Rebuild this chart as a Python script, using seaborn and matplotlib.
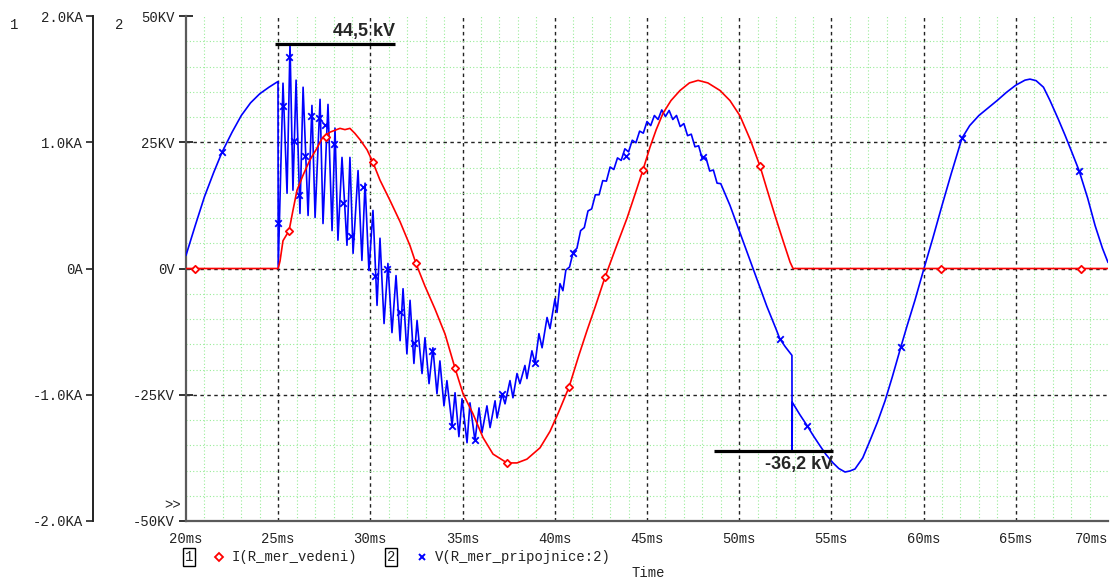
import numpy as np
import pandas as pd
import matplotlib
matplotlib.use("Agg")
import matplotlib.pyplot as plt
from matplotlib.lines import Line2D
import seaborn as sns

# ---- voltage at the busbar, V(R_mer_pripojnice:2) [ms, kV] ----
t_v = [20.00, 20.50, 21.00, 21.50, 21.95, 22.50, 23.00, 23.50, 24.00, 24.50,
       24.93, 24.99, 25.00,
       25.26, 25.48, 25.64, 25.80, 25.97, 26.18, 26.35, 26.62, 26.83, 27.00,
       27.27, 27.43, 27.70, 27.92, 28.08, 28.24, 28.46, 28.73, 28.89, 29.06,
       29.33, 29.54, 29.71, 29.92, 30.14, 30.36, 30.52, 30.74, 30.95, 31.17,
       31.39, 31.61, 31.77, 31.98, 32.15, 32.36, 32.53, 32.80, 32.96, 33.18,
       33.39, 33.61, 33.77, 33.99, 34.15, 34.43, 34.59, 34.80, 34.97, 35.24,
       35.40, 35.67, 35.89, 36.05, 36.32, 36.49, 36.76, 36.87, 37.14, 37.30,
       37.57, 37.73, 37.95, 38.11, 38.38, 38.49, 38.76, 38.93, 39.14, 39.31,
       39.58, 39.74, 40.01, 40.12, 40.28, 40.44,
       40.6, 40.8, 41.0, 41.2, 41.4, 41.6, 41.8, 42.0, 42.2, 42.4, 42.6, 42.8,
       43.0, 43.2, 43.4, 43.6, 43.8, 44.0, 44.2, 44.4, 44.6, 44.8, 45.0, 45.2,
       45.4, 45.6, 45.8, 46.0, 46.2, 46.4, 46.6, 46.8, 47.0, 47.2, 47.4, 47.6,
       47.8, 48.0, 48.2, 48.4, 48.6, 48.8, 49.0,
       49.5, 50.0, 50.5, 51.0, 51.5, 52.0, 52.2, 52.5, 52.86, 52.87, 52.88,
       53.30, 53.68, 54.00, 54.38, 54.70, 55.09, 55.40, 55.74, 56.00, 56.28,
       56.70, 57.09, 57.50, 57.91, 58.30, 58.77, 59.10, 59.53, 60.02,
       60.50, 61.00, 61.50, 62.08, 62.50, 63.00, 63.50, 64.00, 64.50, 65.00,
       65.50, 65.77, 66.10, 66.50, 66.85, 67.30, 67.67, 68.00, 68.43, 68.90,
       69.30, 69.70, 70.00]
v_v = [2.6, 8.5, 14.2, 19.0, 23.0, 27.0, 30.3, 32.8, 34.6, 35.9,
       36.9, 37.0, 0.0,
       36.7, 14.9, 44.5, 15.5, 37.3, 10.9, 35.9, 10.5, 32.3, 10.1,
       33.5, 8.9, 32.5, 7.5, 27.8, 5.6, 22.0, 4.6, 22.0, 3.0,
       19.4, 1.6, 16.9, -0.4, 11.5, -7.3, 6.0, -10.9, 1.0, -12.7,
       -1.4, -14.3, -4.0, -16.9, -6.3, -18.8, -10.3, -20.8, -13.7, -22.8,
       -15.7, -24.8, -18.3, -27.2, -22.2, -31.1, -24.6, -33.3, -25.8, -34.5,
       -26.6, -34.1, -27.6, -32.5, -27.2, -31.5, -26.2, -29.6, -24.8, -26.8,
       -22.2, -25.6, -20.8, -22.8, -19.2, -21.8, -16.3, -18.8, -12.9, -15.7,
       -9.7, -11.9, -6.0, -8.7, -3.0, -4.4,
       -0.3, 0.3, 3.3, 4.0, 7.5, 8.1, 11.4, 11.8, 14.6, 14.6, 17.4, 17.3,
       20.1, 19.6, 21.9, 21.4, 23.7, 23.1, 25.4, 24.9, 27.2, 26.8, 29.1, 28.3,
       30.3, 29.5, 31.4, 30.1, 31.3, 29.5, 30.3, 28.1, 28.7, 26.3, 26.6, 24.1,
       24.3, 21.7, 21.9, 19.3, 19.5, 16.9, 16.8,
       12.5, 7.5, 2.5, -2.5, -7.5, -12.0, -13.9, -15.5, -17.2, -36.2, -26.5,
       -29.0, -31.1, -33.0, -35.1, -36.8, -38.5, -39.6, -40.3, -40.1, -39.7,
       -37.5, -34.1, -30.4, -26.2, -21.5, -15.5, -11.4, -6.3, 0.0,
       6.0, 12.5, 18.8, 25.8, 28.3, 30.3, 31.8, 33.3, 34.9, 36.3,
       37.3, 37.5, 37.2, 35.9, 33.3, 29.6, 26.4, 23.4, 19.4, 13.9,
       8.5, 4.0, 1.2]

# ---- line current, I(R_mer_vedeni) [ms, kA] ----
t_i = [20.00, 25.00, 25.10, 25.26, 25.59, 25.80, 26.02, 26.35, 26.72, 27.05,
       27.38, 27.81, 28.35, 28.62, 28.89, 29.16, 29.44, 29.82, 30.14, 30.52,
       31.06, 31.61, 32.15, 32.47, 32.96, 33.50, 34.05, 34.59, 35.02, 35.56,
       36.11, 36.65, 37.41, 37.95, 38.49, 39.20, 39.74, 40.20, 40.77, 41.30,
       41.75, 42.20, 42.72, 43.30, 43.92, 44.40, 44.78, 45.16, 45.50, 45.87,
       46.30, 46.79, 47.30, 47.77, 48.30, 48.96, 49.50, 50.04, 50.60, 51.13,
       51.50, 51.94, 52.40, 52.76, 52.92, 70.00]
i_i = [0.0, 0.0, 0.06, 0.22, 0.30, 0.46, 0.62, 0.74, 0.86, 0.94,
       1.03, 1.08, 1.11, 1.10, 1.11, 1.07, 1.02, 0.94, 0.84, 0.70,
       0.54, 0.37, 0.18, 0.04, -0.14, -0.32, -0.52, -0.79, -0.99, -1.15,
       -1.34, -1.47, -1.54, -1.54, -1.51, -1.42, -1.29, -1.14, -0.94, -0.69,
       -0.49, -0.30, -0.07, 0.16, 0.40, 0.61, 0.78, 0.96, 1.10, 1.23,
       1.33, 1.41, 1.47, 1.49, 1.47, 1.41, 1.33, 1.21, 1.02, 0.81,
       0.63, 0.42, 0.21, 0.05, 0.0, 0.0]

# trace symbols
mk_t_v = [21.95, 24.99, 25.26, 25.59, 25.85, 26.13, 26.45, 26.78, 27.21, 27.54,
          28.03, 28.51, 28.95, 29.60, 30.25, 30.90, 31.61, 32.37, 33.34, 34.43,
          35.67, 37.14, 38.93, 40.98, 43.86, 48.04, 52.21, 53.68, 58.77, 62.08,
          68.43]
mk_v_v = [23.0, 9.1, 32.1, 41.9, 25.2, 14.5, 22.2, 30.2, 29.8, 28.4,
          24.6, 12.9, 6.5, 16.1, -1.4, 0.0, -8.7, -14.7, -16.3, -31.1,
          -33.9, -24.8, -18.8, 3.0, 22.2, 22.0, -13.9, -31.1, -15.5, 25.8,
          19.4]
mk_t_i = [20.49, 25.59, 27.60, 30.14, 32.47, 34.59, 37.41, 40.77, 42.72, 44.78,
          51.13, 60.94, 68.54]
mk_i_i = [0.0, 0.30, 1.04, 0.84, 0.04, -0.79, -1.54, -0.94, -0.07, 0.78,
          0.81, 0.0, 0.0]

x_ticks = [20, 25, 30, 35, 40, 45, 50, 55, 60, 65, 70]
x_labels = ["20ms", "25ms", "30ms", "35ms", "40ms", "45ms", "50ms", "55ms",
            "60ms", "65ms", "70ms"]
v_ticks = [-50, -25, 0, 25, 50]
v_labels = ["-50KV", "-25KV", "0V", "25KV", "50KV"]
i_ticks = [-2, -1, 0, 1, 2]
i_labels = ["-2.0KA", "-1.0KA", "0A", "1.0KA", "2.0KA"]

peak_kv = 44.5
dip_kv = -36.2

sns.set_theme(style="white")
plt.rcParams["font.family"] = ["Liberation Mono", "DejaVu Sans Mono"]

W, H = 1111, 580
fig = plt.figure(figsize=(W / 100, H / 100), dpi=100)
fig.patch.set_facecolor("white")
ax = fig.add_axes([186 / W, 59 / H, 922 / W, 505 / H])
ax.set_facecolor("white")

BLUE = "#0000ff"
RED = "#ff0000"
GREY = "#5a5a5a"

# voltage trace (axis 2)
sns.lineplot(x=t_v, y=v_v, ax=ax, color=BLUE, linewidth=1.2,
             estimator=None, sort=False, zorder=3)
sns.scatterplot(x=mk_t_v, y=mk_v_v, ax=ax, marker="x", color=BLUE, s=22,
                linewidth=1.3, zorder=4)

# annotations of the extreme values
ax.plot([24.83, 31.33], [peak_kv, peak_kv], color="black", lw=2.3,
        solid_capstyle="butt", zorder=5)
ax.text(31.33, peak_kv + 0.7, f"{peak_kv:.1f}".replace(".", ",") + " kV",
        ha="right", va="bottom", fontsize=13, fontweight="bold",
        family="Liberation Sans", zorder=6)
ax.plot([48.63, 55.09], [dip_kv, dip_kv], color="black", lw=2.3,
        solid_capstyle="butt", zorder=5)
ax.text(55.09, dip_kv - 0.9, f"{dip_kv:.1f}".replace(".", ",") + " kV",
        ha="right", va="top", fontsize=13, fontweight="bold",
        family="Liberation Sans", zorder=6)

ax.set_xlim(20, 70)
ax.set_ylim(-50, 50)
ax.set_xticks(x_ticks)
ax.set_xticklabels(x_labels)
ax.set_yticks(v_ticks)
ax.set_yticklabels(v_labels)
ax.set_xticks(np.arange(20, 71, 1), minor=True)
ax.set_yticks(np.arange(-50, 51, 5), minor=True)
ax.set_xlabel("")
ax.set_ylabel("")

ax.grid(which="minor", color="#98ec98", linestyle=(0, (1, 2)), linewidth=0.8)
ax.grid(which="major", color="#222222", linestyle=(0, (2.5, 2.5)), linewidth=1.0)
for gl in (ax.xaxis.get_gridlines()[0], ax.xaxis.get_gridlines()[-1],
           ax.yaxis.get_gridlines()[0], ax.yaxis.get_gridlines()[-1]):
    gl.set_visible(False)
ax.set_axisbelow(True)

for side in ("top", "right"):
    ax.spines[side].set_visible(False)
for side in ("left", "bottom"):
    ax.spines[side].set_color(GREY)
    ax.spines[side].set_linewidth(1.6)

ax.tick_params(axis="both", which="minor", length=0)
ax.tick_params(axis="x", which="major", direction="inout", length=8, width=1.4,
               color="#333333", pad=4, labelsize=10, labelcolor="#222222")
ax.tick_params(axis="y", which="major", direction="inout", length=10, width=1.4,
               color="#333333", pad=3, labelsize=10, labelcolor="#222222")
# the last time label sits flush with the right edge of the plot
ax.get_xticklabels()[-1].set_horizontalalignment("right")

# current trace (axis 1), its scale drawn further left
ax_i = ax.twinx()
sns.lineplot(x=t_i, y=i_i, ax=ax_i, color=RED, linewidth=1.2,
             estimator=None, sort=False, zorder=3)
sns.scatterplot(x=mk_t_i, y=mk_i_i, ax=ax_i, marker="D", color="white",
                edgecolor=RED, s=14, linewidth=1.3, zorder=4)
ax_i.set_ylim(-2, 2)
ax_i.set_yticks(i_ticks)
ax_i.set_yticklabels(i_labels)
ax_i.set_ylabel("")
ax_i.grid(False)
ax_i.yaxis.set_ticks_position("left")
ax_i.spines["left"].set_position(("outward", 93 * 0.72))
ax_i.spines["left"].set_visible(True)
ax_i.spines["left"].set_color("#222222")
ax_i.spines["left"].set_linewidth(1.4)
for side in ("right", "top", "bottom"):
    ax_i.spines[side].set_visible(False)
ax_i.tick_params(axis="y", direction="out", length=5, width=1.2,
                 color="#222222", pad=2, labelsize=10, labelcolor="#222222")

# axis numbers, overflow mark, legend and x caption
def fx(px):
    return px / W

def fy(py):
    return 1 - py / H

txt = dict(fontsize=10, color="#222222")
fig.text(fx(10), fy(25), "1", ha="left", va="center", **txt)
fig.text(fx(115), fy(25), "2", ha="left", va="center", **txt)
fig.text(fx(181), fy(505), ">>", ha="right", va="center", **txt)

box = dict(boxstyle="square,pad=0.12", fc="white", ec="black", lw=1.0)
fig.text(fx(189), fy(557), "1", ha="center", va="center", bbox=box, **txt)
fig.add_artist(Line2D([fx(219)], [fy(557)], transform=fig.transFigure,
                      marker="D", markersize=4, markerfacecolor="white",
                      markeredgecolor=RED, markeredgewidth=1.3, linestyle=""))
fig.text(fx(232), fy(557), "I(R_mer_vedeni)", ha="left", va="center", **txt)
fig.text(fx(391), fy(557), "2", ha="center", va="center", bbox=box, **txt)
fig.add_artist(Line2D([fx(422)], [fy(557)], transform=fig.transFigure,
                      marker="x", markersize=5, markeredgecolor=BLUE,
                      markeredgewidth=1.4, linestyle=""))
fig.text(fx(435), fy(557), "V(R_mer_pripojnice:2)", ha="left", va="center", **txt)
fig.text(fx(648), fy(573), "Time", ha="center", va="center", **txt)

fig.savefig("out.png", dpi=100, facecolor="white")
